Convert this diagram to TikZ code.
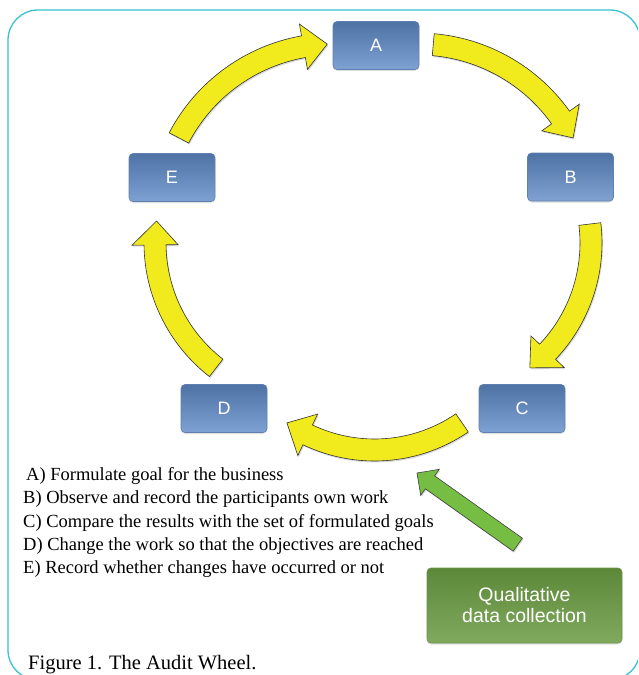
\documentclass[tikz,border=0pt]{standalone}
\usepackage{fontspec}
\setmainfont{Liberation Serif}
\setsansfont{Liberation Sans}
\usetikzlibrary{shadows}
\definecolor{framecol}{HTML}{38C2CF}
\definecolor{yel}{HTML}{F1EA1C}
\definecolor{boxtop}{HTML}{4F72A4}
\definecolor{boxbot}{HTML}{7FA2D3}
\definecolor{boxline}{HTML}{5F80B0}
\definecolor{grtop}{HTML}{5C8839}
\definecolor{grbot}{HTML}{80AA5E}
\definecolor{grline}{HTML}{6A9148}
\definecolor{grarrow}{HTML}{76BD43}
\newcommand\cyclearc[5]{%
  \pgfmathsetmacro\myhb{#5-24/#3*57.2958}%
  \filldraw[yarrow]
    plot[domain=#4:\myhb,samples=30,variable=\t] ({#1+(#3+11)*cos(\t)},{#2+(#3+11)*sin(\t)})
    -- ({#1+(#3+23)*cos(\myhb)},{#2+(#3+23)*sin(\myhb)})
    -- ({#1+#3*cos(#5)},{#2+#3*sin(#5)})
    -- ({#1+(#3-23)*cos(\myhb)},{#2+(#3-23)*sin(\myhb)})
    -- plot[domain=\myhb:#4,samples=30,variable=\t] ({#1+(#3-11)*cos(\t)},{#2+(#3-11)*sin(\t)})
    -- cycle;}
\tikzset{
  stepbox/.style={rounded corners=4pt, minimum width=86pt, minimum height=48pt,
    top color=boxtop, bottom color=boxbot, draw=boxline, line width=0.6pt,
    text=white, font=\sffamily\fontsize{18}{21}\selectfont,
    drop shadow={shadow xshift=0pt, shadow yshift=-1.5pt, opacity=0.25}},
  greenbox/.style={rounded corners=4pt, minimum width=195pt, minimum height=75pt,
    top color=grtop, bottom color=grbot, draw=grline, line width=0.6pt,
    text=white, align=center, font=\sffamily\fontsize{19.5}{21}\selectfont,
    drop shadow={shadow xshift=0pt, shadow yshift=-1.5pt, opacity=0.25}},
  yarrow/.style={fill=yel, draw=black!80, line width=0.6pt,
    drop shadow={shadow xshift=1pt, shadow yshift=-1.5pt, opacity=0.3}},
  garrow/.style={fill=grarrow, draw=black!75, line width=0.6pt,
    drop shadow={shadow xshift=1pt, shadow yshift=-1.5pt, opacity=0.3}},
  legend/.style={anchor=base west, inner sep=0pt, font=\fontsize{18.5}{22}\selectfont}
}
\begin{document}
\begin{tikzpicture}[x=1pt,y=-1pt]
\useasboundingbox (0,0) rectangle (638,675);
\clip (0,0) rectangle (638,675);
\draw[framecol, line width=1.3pt, rounded corners=30pt] (8,10) rectangle (640,680);

% cycle arrows
\cyclearc{418}{219}{175}{-85}{-27.6}
\cyclearc{433}{243}{158}{-6.9}{52.2}
\cyclearc{374.5}{295}{155}{55.6}{124.4}
\cyclearc{313}{243}{158}{127.8}{188}
\cyclearc{334}{219}{175}{-152.4}{-92.2}

% steps
\node[stepbox] (A) at (376,45.5) {A};
\node[stepbox] (B) at (570.5,177) {B};
\node[stepbox] (C) at (522,408.5) {C};
\node[stepbox] (D) at (224,408.5) {D};
\node[stepbox] (E) at (172,177.5) {E};

% green arrow
\filldraw[garrow] (417,473) -- (439.3,469.3) -- (434.6,475.8) -- (522.4,538.2)
  -- (513.2,551.2) -- (425.4,488.8) -- (420.7,495.3) -- cycle;
\node[greenbox] (Q) at (524.5,605.5) {Qualitative\\data collection};

% legend
\node[legend] (l1) at (26,480) {A) Formulate goal for the business};
\node[legend] (l2) at (23,503) {B) Observe and record the participants own work};
\node[legend] (l3) at (23,527) {C) Compare the results with the set of formulated goals};
\node[legend] (l4) at (23,550) {D) Change the work so that the objectives are reached};
\node[legend] (l5) at (23,573) {E) Record whether changes have occurred or not};
\node[legend, font=\fontsize{20.5}{22}\selectfont] (cap) at (28,669) {Figure 1. The Audit Wheel.};
\end{tikzpicture}
\end{document}
